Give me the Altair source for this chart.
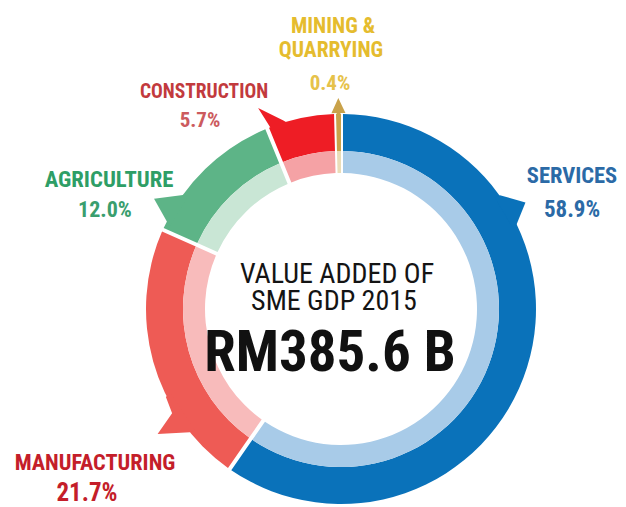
import math
import altair as alt
import pandas as pd

# ---------------- data ----------------
categories = ["Services", "Manufacturing", "Agriculture", "Construction", "Mining & Quarrying"]
shares = [58.9, 21.7, 12.0, 5.7, 0.4]
name_lines = [["SERVICES"], ["MANUFACTURING"], ["AGRICULTURE"], ["CONSTRUCTION"], ["MINING &", "QUARRYING"]]
center_lines = ["VALUE ADDED OF", "SME GDP 2015"]
center_total = "RM385.6 B"

# ---------------- styles ----------------
dark_colors = ["#0A72BA", "#EE5B55", "#5DB487", "#EE1D25", "#C9A24A"]
light_colors = ["#A8CBE8", "#F8BBBB", "#C9E6D5", "#F5A2A5", "#EADDB8"]
name_colors = ["#2B6AA6", "#C41E2A", "#2E9E66", "#C23A3D", "#E5BC2E"]
pct_colors = ["#2B6AA6", "#C41E2A", "#3A9E6E", "#CC5B5E", "#E6C24A"]
NARROW = "Roboto Condensed, Liberation Sans Narrow, DejaVu Sans Condensed, sans-serif"

# ---------------- layout ----------------
W, H = 610, 499
CX, CY = 333, 301
R_OUT, R_MID, R_IN = 195, 158, 136
GAP = 4.0
pad_outer = GAP / math.sqrt(R_OUT ** 2 + R_MID ** 2)
pad_inner = GAP / math.sqrt(R_MID ** 2 + R_IN ** 2)

# label anchor positions (text centre x, baseline y) per line
name_pos = [[(564, 175)], [(87, 462)], [(101, 179)], [(196, 90)], [(325, 25), (323, 49)]]
name_size = [22.5, 22.3, 22.7, 19.5, 21.5]
pct_pos = [(564, 209), (79, 493), (97, 209), (192, 119), (322, 82)]
pct_size = [23, 25, 22, 21, 21]
center_pos = [(329, 275), (326, 302)]
total_pos = (322, 363)

# pointer barbs as polygons in polar coords (deg clockwise from top, radius px)
barbs = [
    [(54.0, 190), (54.4, 195.5), (60.0, 213), (64.8, 193), (65.0, 190)],
    [(244.0, 190), (243.3, 196), (238.3, 198.5), (235.7, 222), (230.8, 195), (230.5, 190)],
    [(306.5, 190), (306.2, 193.5), (300.5, 217), (296.2, 192.5), (296.0, 190)],
    [(338.7, 190), (338.7, 195), (337.6, 217.5), (343.0, 197), (345.0, 190)],
    [(358.7, 190), (358.7, 196), (357.2, 196), (359.27, 211), (361.3, 196), (359.85, 196), (359.85, 190)],
]


def polar_path(pts):
    xy = []
    for deg, r in pts:
        a = math.radians(deg)
        xy.append(f"{r * math.sin(a):.2f},{-r * math.cos(a):.2f}")
    return "M" + " L".join(xy) + " Z"


total = sum(shares)
df = pd.DataFrame({
    "cat": categories,
    "share": shares,
    "order": list(range(len(categories))),
    "dark": dark_colors,
    "light": light_colors,
})

base = alt.Chart(df).transform_window(
    cum="sum(share)", sort=[alt.SortField("order")], frame=[None, 0]
).transform_calculate(start="datum.cum - datum.share")

theta = alt.Theta("start:Q", scale=alt.Scale(domain=[0, total], range=[0, 2 * math.pi]), stack=None)
theta2 = alt.Theta2("cum:Q")


def ring(color_field, r1, r2, pad, flt):
    return base.transform_filter(flt).mark_arc(radius=r1, radius2=r2, padAngle=pad).encode(
        theta=theta, theta2=theta2,
        color=alt.Color(f"{color_field}:N", scale=None),
        x=alt.value(CX), y=alt.value(CY),
    )


outer = ring("dark", R_OUT, R_MID, pad_outer, "datum.order < 4")
outer_m = ring("dark", R_OUT, R_MID, 0, "datum.order == 4")
inner = ring("light", R_MID, R_IN, pad_inner, "datum.order < 4")
inner_m = ring("light", R_MID, R_IN, 0, "datum.order == 4")

barb_df = pd.DataFrame({"path": [polar_path(b) for b in barbs], "color": dark_colors})
barb_layer = alt.Chart(barb_df).mark_point(filled=True, size=4, opacity=1, strokeWidth=0).encode(
    shape=alt.Shape("path:N", scale=None),
    color=alt.Color("color:N", scale=None),
    x=alt.value(CX), y=alt.value(CY),
)

# labels
rows = []
for i, lines in enumerate(name_lines):
    for j, t in enumerate(lines):
        rows.append({"t": t, "x": name_pos[i][j][0], "y": name_pos[i][j][1],
                     "c": name_colors[i], "s": name_size[i]})
names_df = pd.DataFrame(rows)
pct_df = pd.DataFrame({
    "t": [f"{v:.1f}%" for v in shares],
    "x": [p[0] for p in pct_pos], "y": [p[1] for p in pct_pos],
    "c": pct_colors, "s": pct_size,
})
center_df = pd.DataFrame({"t": center_lines, "x": [p[0] for p in center_pos], "y": [p[1] for p in center_pos]})
total_df = pd.DataFrame({"t": [center_total], "x": [total_pos[0]], "y": [total_pos[1]]})

X = alt.X("x:Q", scale=None, axis=None)
Y = alt.Y("y:Q", scale=None, axis=None)

names = alt.Chart(names_df).mark_text(font=NARROW, fontWeight="bold", align="center", baseline="alphabetic").encode(
    x=X, y=Y, text="t:N", color=alt.Color("c:N", scale=None), size=alt.Size("s:Q", scale=None))
pcts = alt.Chart(pct_df).mark_text(font=NARROW, fontWeight="bold", align="center", baseline="alphabetic").encode(
    x=X, y=Y, text="t:N", color=alt.Color("c:N", scale=None), size=alt.Size("s:Q", scale=None))
center = alt.Chart(center_df).mark_text(font=NARROW, fontSize=28, color="#141414", align="center",
                                        baseline="alphabetic").encode(x=X, y=Y, text="t:N")
big = alt.Chart(total_df).mark_text(font=NARROW, fontWeight="bold", fontSize=57, color="#111111",
                                    align="center", baseline="alphabetic").encode(x=X, y=Y, text="t:N")

chart = alt.layer(outer, outer_m, inner, inner_m, barb_layer, names, pcts, center, big).properties(
    width=W, height=H, padding=0, autosize=alt.AutoSizeParams(type="none")
).configure_view(stroke=None)

chart.save("out.html", embed_options={"renderer": "svg", "actions": False})
